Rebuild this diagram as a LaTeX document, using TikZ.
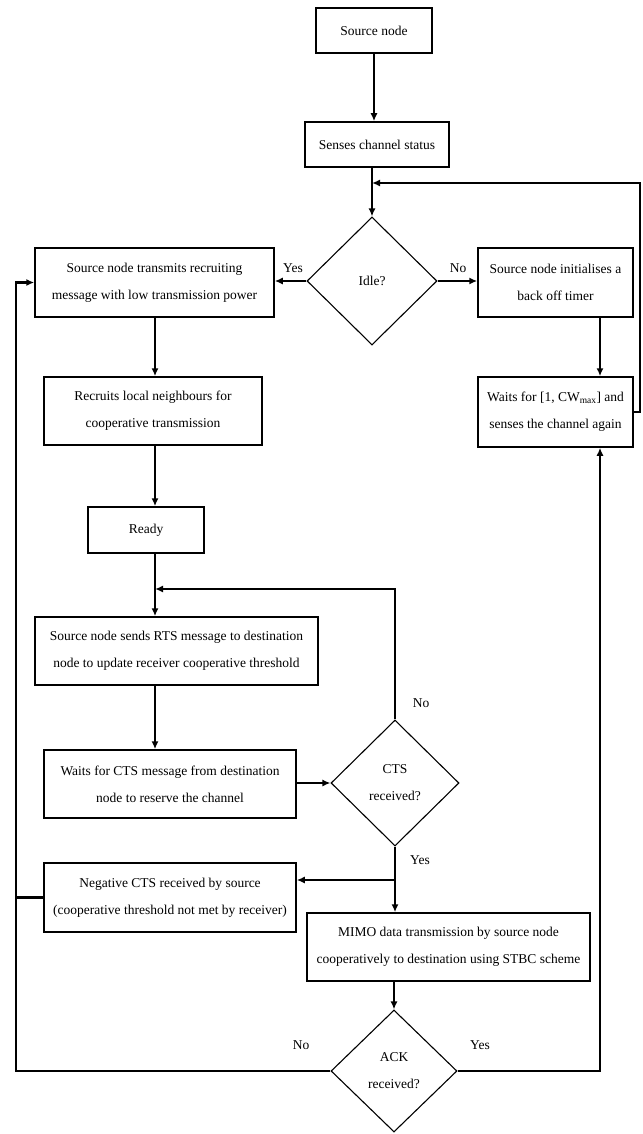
\documentclass[tikz,border=0pt]{standalone}
\usepackage{fontspec}
\setmainfont{Liberation Serif}
\usetikzlibrary{shapes.geometric,arrows.meta}
\begin{document}
\begin{tikzpicture}[x=1pt,y=-1pt,
  box/.style={draw,line width=1.5pt,rectangle,align=center,inner sep=0pt,font=\fontsize{13.5}{27}\selectfont},
  dec/.style={draw,line width=1.1pt,diamond,align=center,inner sep=0pt,font=\fontsize{13.5}{27}\selectfont},
  arr/.style={line width=2.4pt,-{Latex[length=8pt,width=7pt]}},
  ln/.style={line width=2.4pt},
  lab/.style={font=\fontsize{13.5}{15}\selectfont,inner sep=0pt}]
\useasboundingbox (0,0) rectangle (642,1134);
% nodes
\node[box,minimum width=116pt,minimum height=45pt] (src) at (374,30.5) {Source node};
\node[box,minimum width=144pt,minimum height=45pt] (sense) at (377,144.5) {Senses channel status};
\node[dec,minimum width=130pt,minimum height=128pt] (idle) at (372,281) {Idle?};
\node[box,minimum width=239pt,minimum height=69pt] (trans) at (154.5,282.5) {Source node transmits recruiting\\message with low transmission power};
\node[box,minimum width=155pt,minimum height=69pt] (init) at (555.5,282.5) {Source node initialises a\\back off timer};
\node[box,minimum width=218pt,minimum height=68pt] (recr) at (153,411) {Recruits local neighbours for\\cooperative transmission};
\node[box,minimum width=155pt,minimum height=70pt] (wait1) at (555.5,412) {Waits for [1, CW\textsubscript{max}] and\\senses the channel again};
\node[box,minimum width=116pt,minimum height=46pt] (ready) at (146,530) {Ready};
\node[box,minimum width=283pt,minimum height=68pt] (rts) at (176.5,651) {Source node sends RTS message to destination\\node to update receiver cooperative threshold};
\node[box,minimum width=252pt,minimum height=68pt] (wcts) at (170,784) {Waits for CTS message from destination\\node to reserve the channel};
\node[dec,minimum width=128pt,minimum height=126pt] (cts) at (395,783) {CTS\\received?};
\node[box,minimum width=252pt,minimum height=69pt] (neg) at (170,897.5) {Negative CTS received by source\\(cooperative threshold not met by receiver)};
\node[box,minimum width=283pt,minimum height=68pt] (mimo) at (448.5,947) {MIMO data transmission by source node\\cooperatively to destination using STBC scheme};
\node[dec,minimum width=126pt,minimum height=122pt] (ack) at (394,1071) {ACK\\received?};
% labels
\node[lab] (l1) at (293,268) {Yes};
\node[lab] (l2) at (458,268) {No};
\node[lab] (l3) at (421,703) {No};
\node[lab] (l4) at (420,860) {Yes};
\node[lab] (l5) at (301,1045) {No};
\node[lab] (l6) at (480,1045) {Yes};
% helper coordinates
\coordinate (xl) at (155,0);
\coordinate (xr) at (600,0);
\coordinate (loopA) at (372,183);
\coordinate (rt) at (640,183);
\coordinate (loopB) at (155,589);
\coordinate (br) at (395,880);
\coordinate (lft) at (16,1071);
% connectors
\draw[arr] (src.south) -- (src.south |- sense.north);
\draw[arr] (sense.south -| idle.north) -- (idle.north);
\draw[arr] (wait1.east) -| (rt) -- (loopA);
\draw[arr] (idle.west) -- (trans.east |- idle.west);
\draw[arr] (idle.east) -- (init.west |- idle.east);
\draw[arr] (init.south -| xr) -- (wait1.north -| xr);
\draw[arr] (trans.south -| xl) -- (recr.north -| xl);
\draw[arr] (recr.south -| xl) -- (ready.north -| xl);
\draw[arr] (ready.south -| xl) -- (rts.north -| xl);
\draw[arr] (cts.north) |- (loopB);
\draw[arr] (rts.south -| xl) -- (wcts.north -| xl);
\draw[arr] (wcts.east |- cts.west) -- (cts.west);
\draw[arr] (cts.south) -- (cts.south |- mimo.north);
\draw[arr] (br) -- (neg.east |- br);
\draw[arr] (mimo.south -| ack.north) -- (ack.north);
\draw[arr] (ack.west) -- (lft) |- (trans.west);
\draw[ln] (neg.west) -- (neg.west -| lft);
\draw[arr] (ack.east) -| (wait1.south -| xr);
\end{tikzpicture}
\end{document}
